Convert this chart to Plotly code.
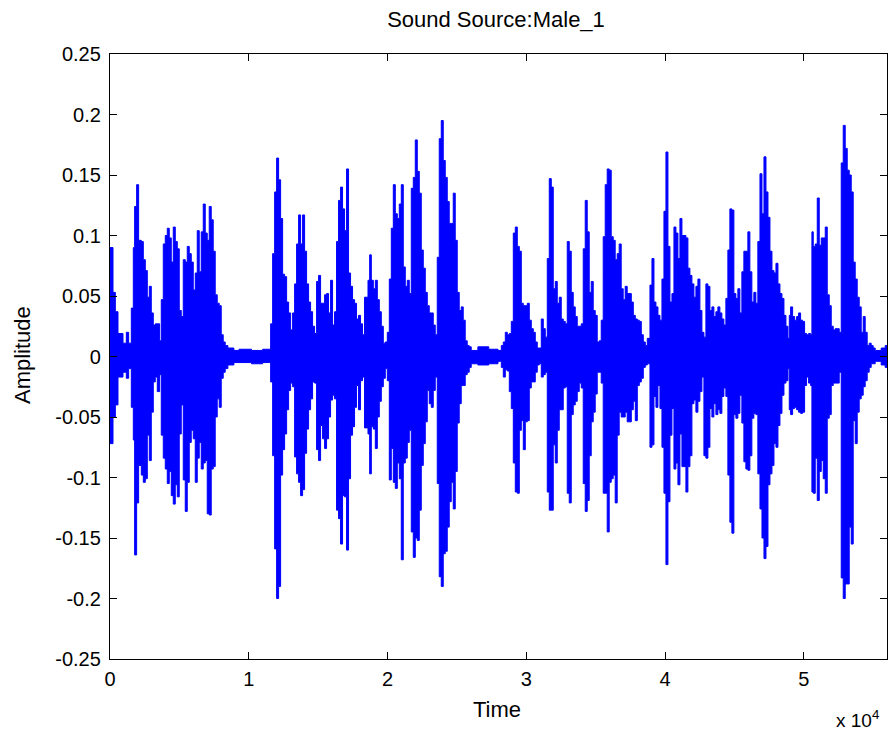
import plotly.graph_objects as go

# Waveform envelope: step start (sample index), upper and lower amplitude
t = [0, 216, 384, 576, 936, 1176, 1344, 1536, 1680, 1776, 1920, 2064, 2256, 2400, 2544, 2688, 2832, 2976, 3120, 3264,
     3408, 3576, 3696, 3840, 3984, 4128, 4272, 4416, 4560, 4704, 4848, 4992, 5136, 5280, 5424, 5568, 5712, 5856, 6000, 6144,
     6288, 6432, 6576, 6720, 6864, 7008, 7152, 7296, 7440, 7584, 7728, 7872, 8016, 8160, 8304, 8496, 8928, 9300, 10200, 11000,
     11577, 11721, 11865, 12009, 12153, 12297, 12441, 12585, 12729, 12873, 13017, 13161, 13305, 13449, 13593, 13737, 13881, 14025, 14169, 14313,
     14457, 14601, 14745, 14889, 15033, 15177, 15321, 15465, 15609, 15753, 15897, 16041, 16185, 16329, 16473, 16617, 16761, 16905, 17049, 17193,
     17337, 17481, 17625, 17769, 17913, 18057, 18201, 18345, 18594, 18714, 18834, 18978, 19122, 19266, 19410, 19554, 19698, 19842, 19986, 20130,
     20274, 20418, 20562, 20706, 20850, 20994, 21138, 21282, 21426, 21570, 21714, 21858, 22002, 22146, 22290, 22434, 22578, 22722, 22866, 23010,
     23154, 23298, 23442, 23586, 23730, 23874, 24018, 24162, 24306, 24450, 24594, 24738, 24882, 25026, 25170, 25314, 25458, 25602, 25746, 25890,
     26034, 26514, 27300, 27963, 28203, 28347, 28491, 28635, 28779, 28923, 29067, 29211, 29355, 29499, 29643, 29787, 29931, 30075, 30219, 30363,
     30507, 30651, 30795, 30939, 31083, 31227, 31371, 31515, 31659, 31803, 31947, 32091, 32235, 32379, 32523, 32667, 32811, 32955, 33099, 33243,
     33387, 33531, 33675, 33819, 33963, 34107, 34251, 34395, 34539, 34683, 34827, 34971, 35115, 35259, 35403, 35547, 35691, 35835, 35979, 36123,
     36267, 36411, 36555, 36699, 36843, 36987, 37131, 37275, 37572, 37716, 37860, 38004, 38148, 38292, 38436, 38580, 38724, 38916, 39060, 39204,
     39348, 39492, 39636, 39780, 39924, 40068, 40212, 40356, 40500, 40644, 40788, 40932, 41076, 41220, 41364, 41508, 41652, 41796, 41940, 42084,
     42228, 42372, 42516, 42660, 42804, 42948, 43092, 43236, 43380, 43524, 43668, 43812, 43956, 44100, 44244, 44388, 44532, 44676, 44820, 44964,
     45108, 45252, 45396, 45540, 45684, 45828, 45972, 46116, 46260, 46404, 46548, 46692, 46845, 46989, 47133, 47277, 47421, 47565, 47709, 47853,
     47997, 48141, 48285, 48429, 48573, 48717, 48861, 48957, 49053, 49197, 49341, 49485, 49629, 49773, 49917, 50061, 50205, 50349, 50493, 50589,
     50685, 50829, 50973, 51117, 51261, 51405, 51549, 51693, 51837, 51981, 52125, 52269, 52413, 52557, 52701, 52845, 52989, 53133, 53277, 53421,
     53565, 53709, 53853, 53997, 54141, 54285, 54429, 54573, 54717, 54861, 55005, 55149, 55581, 55869, 56000]

upper = [0.090, 0.053, 0.037, 0.019, 0.011, 0.020, 0.011, 0.040, 0.090, 0.124, 0.142, 0.096, 0.095, 0.080, 0.071, 0.049, 0.058, 0.036, 0.026, 0.027,
         0.027, 0.013, 0.047, 0.093, 0.100, 0.106, 0.098, 0.078, 0.107, 0.095, 0.089, 0.038, 0.033, 0.080, 0.078, 0.091, 0.085, 0.078, 0.055, 0.069,
         0.104, 0.070, 0.103, 0.126, 0.102, 0.096, 0.124, 0.113, 0.087, 0.051, 0.044, 0.042, 0.018, 0.012, 0.009, 0.007, 0.005, 0.006, 0.005, 0.006,
         0.027, 0.085, 0.136, 0.164, 0.146, 0.114, 0.068, 0.066, 0.045, 0.036, 0.022, 0.036, 0.060, 0.093, 0.117, 0.093, 0.117, 0.087, 0.060, 0.045,
         0.037, 0.025, 0.019, 0.062, 0.067, 0.044, 0.044, 0.051, 0.052, 0.036, 0.063, 0.026, 0.037, 0.095, 0.129, 0.140, 0.122, 0.104, 0.155, 0.069,
         0.058, 0.047, 0.044, 0.031, 0.034, 0.027, 0.018, 0.049, 0.063, 0.084, 0.063, 0.056, 0.063, 0.047, 0.037, 0.025, 0.011, 0.012, 0.020, 0.064,
         0.106, 0.142, 0.118, 0.114, 0.126, 0.142, 0.074, 0.058, 0.063, 0.052, 0.139, 0.148, 0.179, 0.153, 0.135, 0.088, 0.073, 0.053, 0.042, 0.036,
         0.036, 0.026, 0.018, 0.082, 0.180, 0.195, 0.162, 0.148, 0.128, 0.110, 0.110, 0.135, 0.096, 0.053, 0.038, 0.041, 0.030, 0.013, 0.009, 0.008,
         0.005, 0.008, 0.006, 0.005, 0.009, 0.012, 0.020, 0.018, 0.019, 0.029, 0.102, 0.107, 0.091, 0.087, 0.044, 0.042, 0.042, 0.044, 0.030, 0.023,
         0.020, 0.012, 0.007, 0.007, 0.031, 0.023, 0.016, 0.081, 0.147, 0.140, 0.056, 0.062, 0.044, 0.049, 0.031, 0.029, 0.027, 0.095, 0.087, 0.053,
         0.041, 0.033, 0.025, 0.025, 0.027, 0.089, 0.129, 0.103, 0.053, 0.062, 0.038, 0.034, 0.012, 0.013, 0.030, 0.099, 0.142, 0.155, 0.154, 0.099,
         0.096, 0.080, 0.085, 0.093, 0.056, 0.047, 0.058, 0.052, 0.045, 0.034, 0.031, 0.030, 0.029, 0.018, 0.012, 0.009, 0.015, 0.059, 0.081, 0.045,
         0.041, 0.034, 0.030, 0.064, 0.120, 0.169, 0.091, 0.045, 0.052, 0.107, 0.102, 0.081, 0.114, 0.100, 0.100, 0.098, 0.073, 0.067, 0.060, 0.049,
         0.058, 0.064, 0.038, 0.020, 0.016, 0.060, 0.058, 0.038, 0.041, 0.033, 0.037, 0.041, 0.036, 0.031, 0.026, 0.048, 0.088, 0.122, 0.121, 0.052,
         0.048, 0.056, 0.036, 0.070, 0.087, 0.087, 0.103, 0.070, 0.045, 0.053, 0.044, 0.095, 0.151, 0.118, 0.165, 0.136, 0.115, 0.087, 0.071, 0.069,
         0.077, 0.060, 0.052, 0.048, 0.034, 0.025, 0.015, 0.034, 0.041, 0.033, 0.030, 0.033, 0.036, 0.030, 0.029, 0.019, 0.018, 0.019, 0.018, 0.103,
         0.091, 0.093, 0.131, 0.092, 0.098, 0.098, 0.107, 0.051, 0.042, 0.025, 0.022, 0.023, 0.023, 0.020, 0.160, 0.191, 0.172, 0.154, 0.150, 0.136,
         0.078, 0.064, 0.049, 0.041, 0.020, 0.033, 0.020, 0.009, 0.011, 0.009, 0.007, 0.005, 0.007, 0.009, 0.009]

lower = [-0.072, -0.050, -0.040, -0.017, -0.013, -0.018, -0.010, -0.042, -0.069, -0.164, -0.121, -0.090, -0.098, -0.104, -0.101, -0.065, -0.086, -0.046, -0.021, -0.017,
         -0.029, -0.015, -0.065, -0.084, -0.093, -0.105, -0.095, -0.115, -0.122, -0.106, -0.116, -0.064, -0.040, -0.102, -0.128, -0.104, -0.071, -0.061, -0.068, -0.104,
         -0.084, -0.071, -0.093, -0.088, -0.086, -0.130, -0.131, -0.093, -0.091, -0.050, -0.035, -0.042, -0.018, -0.013, -0.010, -0.007, -0.005, -0.005, -0.006, -0.005,
         -0.021, -0.082, -0.159, -0.200, -0.190, -0.098, -0.077, -0.064, -0.044, -0.028, -0.022, -0.025, -0.083, -0.097, -0.104, -0.115, -0.110, -0.080, -0.060, -0.044,
         -0.035, -0.021, -0.022, -0.077, -0.086, -0.057, -0.068, -0.076, -0.068, -0.050, -0.036, -0.032, -0.035, -0.127, -0.134, -0.155, -0.115, -0.116, -0.160, -0.101,
         -0.065, -0.058, -0.042, -0.024, -0.044, -0.020, -0.017, -0.059, -0.064, -0.097, -0.058, -0.060, -0.076, -0.050, -0.037, -0.025, -0.018, -0.010, -0.020, -0.102,
         -0.076, -0.104, -0.109, -0.088, -0.101, -0.168, -0.088, -0.084, -0.071, -0.061, -0.145, -0.166, -0.150, -0.152, -0.127, -0.090, -0.072, -0.054, -0.028, -0.039,
         -0.042, -0.028, -0.017, -0.105, -0.182, -0.190, -0.163, -0.161, -0.141, -0.120, -0.104, -0.126, -0.095, -0.055, -0.039, -0.024, -0.024, -0.015, -0.013, -0.009,
         -0.006, -0.007, -0.006, -0.004, -0.009, -0.017, -0.011, -0.012, -0.029, -0.043, -0.088, -0.112, -0.113, -0.061, -0.053, -0.077, -0.054, -0.053, -0.026, -0.021,
         -0.021, -0.013, -0.007, -0.006, -0.017, -0.015, -0.013, -0.112, -0.127, -0.127, -0.073, -0.088, -0.061, -0.044, -0.044, -0.026, -0.025, -0.113, -0.121, -0.048,
         -0.040, -0.037, -0.029, -0.022, -0.026, -0.105, -0.128, -0.119, -0.082, -0.054, -0.046, -0.031, -0.013, -0.013, -0.022, -0.113, -0.113, -0.145, -0.104, -0.101,
         -0.098, -0.121, -0.065, -0.046, -0.050, -0.050, -0.046, -0.054, -0.044, -0.037, -0.053, -0.024, -0.021, -0.018, -0.009, -0.007, -0.006, -0.075, -0.073, -0.033,
         -0.042, -0.024, -0.043, -0.075, -0.113, -0.172, -0.120, -0.065, -0.043, -0.093, -0.088, -0.106, -0.064, -0.091, -0.091, -0.112, -0.091, -0.082, -0.039, -0.036,
         -0.046, -0.037, -0.029, -0.017, -0.082, -0.084, -0.075, -0.043, -0.050, -0.039, -0.048, -0.044, -0.047, -0.033, -0.026, -0.033, -0.098, -0.137, -0.146, -0.048,
         -0.051, -0.047, -0.032, -0.055, -0.087, -0.093, -0.094, -0.082, -0.051, -0.047, -0.048, -0.097, -0.126, -0.150, -0.167, -0.157, -0.106, -0.097, -0.090, -0.072,
         -0.075, -0.057, -0.047, -0.032, -0.022, -0.020, -0.010, -0.044, -0.048, -0.043, -0.042, -0.044, -0.046, -0.047, -0.046, -0.024, -0.017, -0.022, -0.024, -0.112,
         -0.113, -0.084, -0.119, -0.095, -0.086, -0.101, -0.113, -0.051, -0.048, -0.024, -0.022, -0.022, -0.022, -0.013, -0.183, -0.200, -0.188, -0.188, -0.141, -0.155,
         -0.053, -0.072, -0.046, -0.035, -0.032, -0.025, -0.020, -0.013, -0.009, -0.006, -0.006, -0.004, -0.007, -0.009, -0.009]

x_tickvals = [0, 10000, 20000, 30000, 40000, 50000]
x_ticktext = ["0", "1", "2", "3", "4", "5"]
y_tickvals = [-0.25, -0.2, -0.15, -0.1, -0.05, 0, 0.05, 0.1, 0.15, 0.2, 0.25]
y_ticktext = ["-0.25", "-0.2", "-0.15", "-0.1", "-0.05", "0", "0.05", "0.1", "0.15", "0.2", "0.25"]
x_max = 56000

BLUE = "#0000FF"
FONT = "Liberation Sans, Arial, sans-serif"

fig = go.Figure()
fig.add_trace(go.Scatter(x=t, y=upper, mode="lines", line=dict(color=BLUE, width=1, shape="hv"),
                         hoverinfo="skip", showlegend=False))
fig.add_trace(go.Scatter(x=t, y=lower, mode="lines", line=dict(color=BLUE, width=1, shape="hv"),
                         fill="tonexty", fillcolor=BLUE, hoverinfo="skip", showlegend=False))

axis_common = dict(showline=True, linecolor="black", linewidth=1.3, mirror="ticks", ticks="inside",
                   ticklen=7, tickwidth=1.3, tickcolor="black", showgrid=False, zeroline=False,
                   tickfont=dict(family=FONT, size=20, color="black"))

fig.update_layout(
    width=892, height=738,
    margin=dict(l=110, r=5, t=54, b=79, autoexpand=False),
    paper_bgcolor="white", plot_bgcolor="white",
    title=dict(text="Sound Source:Male_1", x=(496 / 892), xanchor="center", y=1 - 19 / 738, yanchor="middle",
               yref="container", font=dict(family=FONT, size=22, color="black")),
    xaxis=dict(range=[0, x_max], tickvals=x_tickvals, ticktext=x_ticktext, ticklabelstandoff=2, **axis_common),
    yaxis=dict(range=[-0.25, 0.25], tickvals=y_tickvals, ticktext=y_ticktext, ticklabelstandoff=4, **axis_common),
)

fig.add_annotation(text="Amplitude", textangle=-90, xref="paper", yref="paper",
                   x=(22 - 110) / 777, y=(659 - 355) / 605, xanchor="center", yanchor="middle",
                   showarrow=False, font=dict(family=FONT, size=22, color="black"))
fig.add_annotation(text="Time", xref="paper", yref="paper",
                   x=(497 - 110) / 777, y=-(710 - 659) / 605, xanchor="center", yanchor="middle",
                   showarrow=False, font=dict(family=FONT, size=22, color="black"))
fig.add_annotation(text="x 10<sup>4</sup>", xref="paper", yref="paper",
                   x=(857 - 110) / 777, y=-(719 - 659) / 605, xanchor="center", yanchor="middle",
                   showarrow=False, font=dict(family=FONT, size=19, color="black"))

fig.write_html("out.html", config={"displayModeBar": False},
               post_script="document.body.style.margin='0px';")
